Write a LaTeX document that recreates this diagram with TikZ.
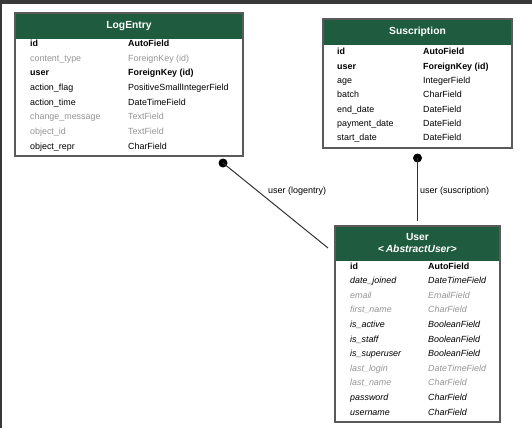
\documentclass[tikz,border=0pt]{standalone}
\usepackage{fontspec}
\setmainfont{Liberation Sans}
\usetikzlibrary{positioning}

\definecolor{headgreen}{HTML}{1E5B3F}
\definecolor{framegrey}{HTML}{5A5A5A}
\definecolor{bargrey}{HTML}{383838}

\begin{document}
\begin{tikzpicture}[x=1pt, y=-1pt]
    % --- Style Definitions ---
    \tikzset{
        model box/.style={
            draw=framegrey,
            line width=1.4pt,
            anchor=north west,
            inner sep=0pt,
            outer sep=0pt
        },
        model head/.style={
            fill=headgreen,
            anchor=north west,
            inner sep=0pt,
            outer sep=0pt
        },
        head text/.style={text=white, font=\fontsize{10.3}{12}\selectfont\bfseries, align=center},
        field text/.style={anchor=base west, inner sep=0pt, font=\fontsize{8.9}{10}\selectfont},
        keyfield/.style={font=\fontsize{8.9}{10}\selectfont\bfseries},
        plainfield/.style={},
        greyfield/.style={text=black!42},
        inhfield/.style={font=\fontsize{8.9}{10}\selectfont\itshape},
        inhgrey/.style={font=\fontsize{8.9}{10}\selectfont\itshape, text=black!42},
        fk dot/.style={circle, fill=black, minimum size=9pt, inner sep=0pt},
        relation/.style={draw=black!80, line width=1pt},
        rel label/.style={font=\fontsize{9}{10}\selectfont, anchor=west, inner sep=0pt}
    }

    \useasboundingbox (0,0) rectangle (532,428);

    % window frame
    \fill[bargrey] (0,0) rectangle (532,4);
    \fill[bargrey] (0,0) rectangle (1.5,428);

    % ==========================================
    % LogEntry
    % ==========================================
    \begin{scope}
        \node[model head, minimum width=228pt, minimum height=26pt] (le-head) at (15,13) {};
        \node[head text] (le-title) at (le-head.center) {LogEntry};

        \foreach \fname/\ftype/\fstyle [count=\i from 0] in {
            id/AutoField/keyfield,
            content\_type/ForeignKey (id)/greyfield,
            user/ForeignKey (id)/keyfield,
            action\_flag/PositiveSmallIntegerField/plainfield,
            action\_time/DateTimeField/plainfield,
            change\_message/TextField/greyfield,
            object\_id/TextField/greyfield,
            object\_repr/CharField/plainfield} {
            \node[field text, \fstyle] (le-n\i) at (30, 46.5+14.67*\i) {\fname};
            \node[field text, \fstyle] (le-t\i) at (128, 46.5+14.67*\i) {\ftype};
        }

        \node[model box, minimum width=228pt, minimum height=143pt] (le) at (15,13) {};
    \end{scope}

    % ==========================================
    % Suscription
    % ==========================================
    \begin{scope}
        \node[model head, minimum width=189pt, minimum height=26pt] (su-head) at (323,19) {};
        \node[head text] (su-title) at (su-head.center) {Suscription};

        \foreach \fname/\ftype/\fstyle [count=\i from 0] in {
            id/AutoField/keyfield,
            user/ForeignKey (id)/keyfield,
            age/IntegerField/plainfield,
            batch/CharField/plainfield,
            end\_date/DateField/plainfield,
            payment\_date/DateField/plainfield,
            start\_date/DateField/plainfield} {
            \node[field text, \fstyle] (su-n\i) at (337, 55+14.33*\i) {\fname};
            \node[field text, \fstyle] (su-t\i) at (423, 55+14.33*\i) {\ftype};
        }

        \node[model box, minimum width=189pt, minimum height=129pt] (su) at (323,19) {};
    \end{scope}

    % ==========================================
    % User
    % ==========================================
    \begin{scope}
        \node[model head, minimum width=165pt, minimum height=35pt] (us-head) at (335,226) {};
        \node[head text] (us-title) at (us-head.center) {User\\{<}\,\textit{AbstractUser}{>}};

        \foreach \fname/\ftype/\fstyle [count=\i from 0] in {
            id/AutoField/keyfield,
            date\_joined/DateTimeField/inhfield,
            email/EmailField/inhgrey,
            first\_name/CharField/inhgrey,
            is\_active/BooleanField/inhfield,
            is\_staff/BooleanField/inhfield,
            is\_superuser/BooleanField/inhfield,
            last\_login/DateTimeField/inhgrey,
            last\_name/CharField/inhgrey,
            password/CharField/inhfield,
            username/CharField/inhfield} {
            \node[field text, \fstyle] (us-n\i) at (350, 269+14.6*\i) {\fname};
            \node[field text, \fstyle] (us-t\i) at (428, 269+14.6*\i) {\ftype};
        }

        \node[model box, minimum width=165pt, minimum height=196pt] (us) at (335,226) {};
    \end{scope}

    % ==========================================
    % Relations
    % ==========================================
    \node[fk dot] (le-dot) at (223,163) {};
    \coordinate (le-end) at (328,248);
    \draw[relation] (le-dot.center) -- (le-end);
    \node[rel label] (le-label) at (268,191) {user (logentry)};

    \node[fk dot] (su-dot) at (417.5,158) {};
    \draw[relation, shorten >=5pt] (su-dot.center) -- (us.north);
    \node[rel label] (su-label) at (420,191) {user (suscription)};

\end{tikzpicture}
\end{document}
